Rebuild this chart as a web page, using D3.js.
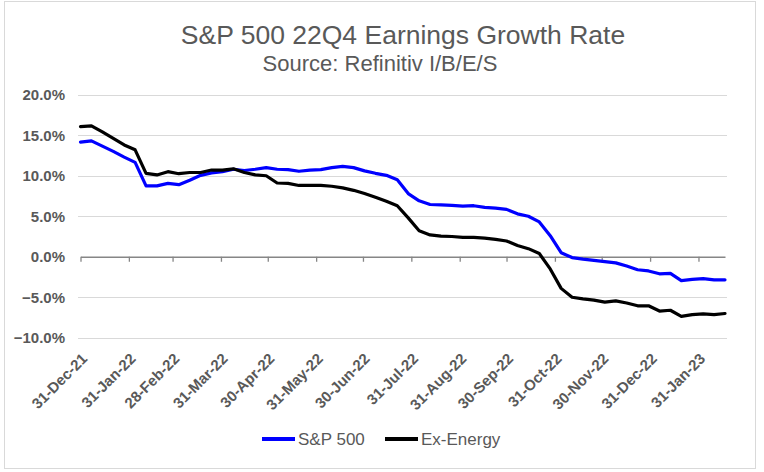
<!DOCTYPE html>
<html>
<head>
<meta charset="utf-8">
<script src="https://cdn.jsdelivr.net/npm/d3@7"></script>
<style>
  html, body { margin: 0; padding: 0; background: #fff; }
  svg { display: block; font-family: "Liberation Sans", Arial, sans-serif; }
</style>
</head>
<body>
<svg id="chart" width="764" height="472"></svg>
<script>
const dates = [
  "2021-12-31","2022-01-07","2022-01-14","2022-01-21","2022-01-28","2022-02-04","2022-02-11","2022-02-18","2022-02-25",
  "2022-03-04","2022-03-11","2022-03-18","2022-03-25","2022-04-01","2022-04-08","2022-04-15","2022-04-22","2022-04-29",
  "2022-05-06","2022-05-13","2022-05-20","2022-05-27","2022-06-03","2022-06-10","2022-06-17","2022-06-24",
  "2022-07-01","2022-07-08","2022-07-15","2022-07-22","2022-07-29","2022-08-05","2022-08-12","2022-08-19","2022-08-26",
  "2022-09-02","2022-09-09","2022-09-16","2022-09-23","2022-09-30","2022-10-07","2022-10-14","2022-10-21","2022-10-28",
  "2022-11-04","2022-11-11","2022-11-18","2022-11-25","2022-12-02","2022-12-09","2022-12-16","2022-12-23","2022-12-30",
  "2023-01-06","2023-01-13","2023-01-20","2023-01-27","2023-02-03","2023-02-10","2023-02-17"
];
const sp500 = [
  14.15, 14.3, 13.65, 13.0, 12.3, 11.65, 8.75, 8.75, 9.05,
  8.9, 9.45, 10.05, 10.35, 10.5, 10.8, 10.65, 10.8, 11.0,
  10.8, 10.75, 10.55, 10.7, 10.75, 11.0, 11.15, 11.0,
  10.6, 10.3, 10.05, 9.5, 7.8, 6.9, 6.45, 6.4, 6.35,
  6.25, 6.3, 6.1, 6.0, 5.85, 5.3, 5.0, 4.3, 2.6,
  0.5, -0.1, -0.3, -0.45, -0.6, -0.75, -1.15, -1.6, -1.75,
  -2.1, -2.05, -2.95, -2.8, -2.7, -2.85, -2.85
];
const exEnergy = [
  16.05, 16.15, 15.4, 14.6, 13.8, 13.2, 10.3, 10.1, 10.5,
  10.25, 10.4, 10.4, 10.7, 10.7, 10.85, 10.4, 10.1, 10.0,
  9.1, 9.05, 8.8, 8.8, 8.8, 8.7, 8.5, 8.2,
  7.8, 7.35, 6.85, 6.3, 4.8, 3.2, 2.7, 2.55, 2.5,
  2.4, 2.4, 2.3, 2.15, 1.95, 1.4, 1.0, 0.4, -1.5,
  -3.9, -5.0, -5.2, -5.35, -5.6, -5.45, -5.7, -6.05, -6.05,
  -6.7, -6.6, -7.35, -7.15, -7.05, -7.15, -7.0
];
const tickDates = [
  "2021-12-31","2022-01-31","2022-02-28","2022-03-31","2022-04-30","2022-05-31","2022-06-30",
  "2022-07-31","2022-08-31","2022-09-30","2022-10-31","2022-11-30","2022-12-31","2023-01-31"
];
const yTicks = [-10, -5, 0, 5, 10, 15, 20];
const seriesNames = ["S&P 500", "Ex-Energy"];
const seriesColors = ["#0000ff", "#000000"];
const titleText = "S&P 500 22Q4 Earnings Growth Rate";
const subtitleText = "Source: Refinitiv I/B/E/S";

const parse = d3.timeParse("%Y-%m-%d");
const fmt = d3.timeFormat("%d-%b-%y");
const dd = dates.map(parse);
const ticks = tickDates.map(parse);

const svg = d3.select("#chart");
const textColor = "#595959";

// outer border
svg.append("rect").attr("x", 4.5).attr("y", 1.5).attr("width", 751).attr("height", 467)
  .attr("fill", "#fff").attr("stroke", "#d9d9d9").attr("stroke-width", 1);

const x = d3.scaleTime().domain([dd[0], dd[dd.length - 1]]).range([80.5, 725]);
const y = d3.scaleLinear().domain([-10, 20]).range([337.8, 94.7]);

// title
svg.append("text").attr("x", 403).attr("y", 43.5).attr("text-anchor", "middle")
  .attr("font-size", 26.5).attr("fill", textColor).text(titleText);
svg.append("text").attr("x", 380).attr("y", 71).attr("text-anchor", "middle")
  .attr("font-size", 22).attr("fill", textColor).text(subtitleText);

// gridlines
const gridG = svg.append("g").attr("class", "grid");
gridG.call(d3.axisLeft(y).tickValues(yTicks.filter(v => v !== 0)).tickSize(-(727 - 78)).tickFormat(""))
  .attr("transform", "translate(78,0)");
gridG.select(".domain").remove();
gridG.selectAll(".tick line").attr("stroke", "#d9d9d9").attr("stroke-width", 1)
  .attr("shape-rendering", "crispEdges");

// y labels
const yAxis = svg.append("g").attr("transform", "translate(70,0)")
  .call(d3.axisLeft(y).tickValues(yTicks).tickSize(0).tickPadding(5).tickFormat(v => d3.format(".1f")(v) + "%"));
yAxis.select(".domain").remove();
yAxis.selectAll("text").attr("font-size", 15).attr("font-weight", "bold").attr("fill", textColor)
  .attr("font-family", "Liberation Sans, Arial, sans-serif");

// category axis at zero
const xAxis = svg.append("g").attr("transform", `translate(0,${y(0)})`)
  .call(d3.axisBottom(x).tickValues(ticks).tickSize(5).tickSizeOuter(0).tickFormat(""));
xAxis.select(".domain").attr("stroke", "#868686").attr("stroke-width", 1.3);
xAxis.selectAll(".tick line").attr("stroke", "#868686").attr("stroke-width", 1.3);

// x labels (low position)
const labG = svg.append("g");
labG.selectAll("text").data(ticks).enter().append("text")
  .attr("transform", d => `translate(${x(d) + 4},${356}) rotate(-45)`)
  .attr("text-anchor", "end").attr("dy", "0.35em")
  .attr("font-size", 15).attr("font-weight", "bold").attr("fill", textColor)
  .text(d => fmt(d));

// lines
const line = d3.line().x((d, i) => x(dd[i])).y(d => y(d));
[sp500, exEnergy].forEach((s, k) => {
  svg.append("path").datum(s).attr("d", line).attr("fill", "none")
    .attr("stroke", seriesColors[k]).attr("stroke-width", 3.2)
    .attr("stroke-linejoin", "round").attr("stroke-linecap", "round");
});

// legend
const legendItems = [{x: 262, name: seriesNames[0], c: seriesColors[0]}, {x: 385, name: seriesNames[1], c: seriesColors[1]}];
const lg = svg.append("g");
legendItems.forEach(it => {
  lg.append("line").attr("x1", it.x).attr("x2", it.x + 33).attr("y1", 439).attr("y2", 439)
    .attr("stroke", it.c).attr("stroke-width", 4);
  lg.append("text").attr("x", it.x + 36).attr("y", 445).attr("font-size", 17)
    .attr("fill", textColor).text(it.name);
});
</script>
</body>
</html>
